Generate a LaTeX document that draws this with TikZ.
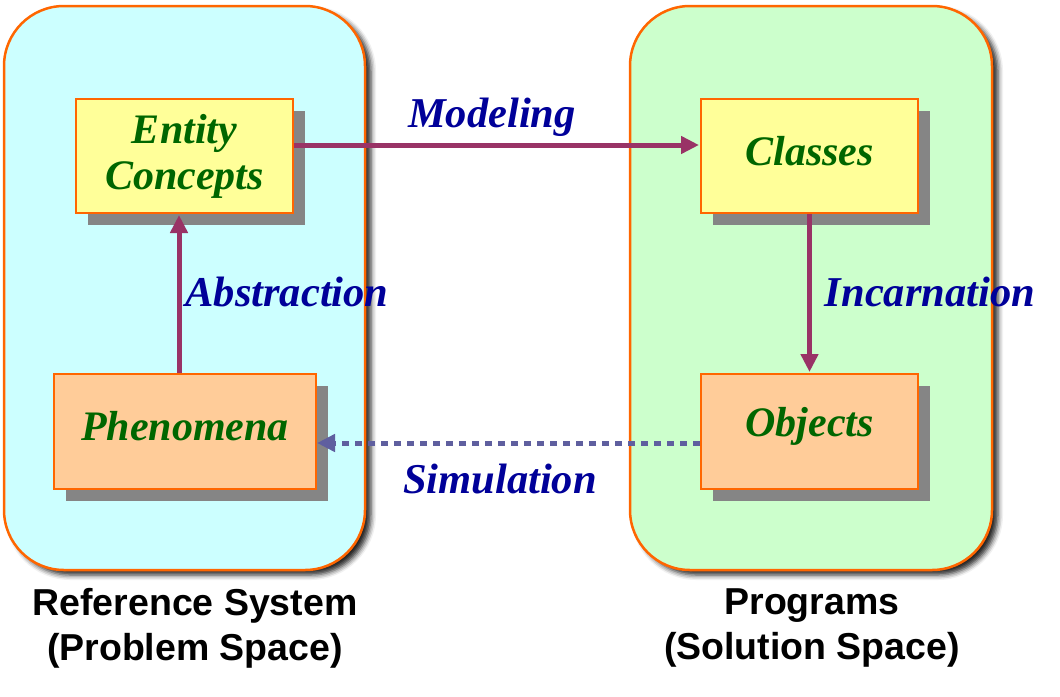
\documentclass[tikz,border=0pt]{standalone}
\usepackage{fontspec}
\setmainfont{Liberation Serif}
\newfontfamily\labsans{Liberation Sans}
\usetikzlibrary{shadows,shadows.blur,arrows.meta}
\definecolor{panelA}{HTML}{CCFFFF}
\definecolor{panelB}{HTML}{CCFFCC}
\definecolor{orng}{HTML}{FF6600}
\definecolor{boxY}{HTML}{FFFF99}
\definecolor{boxO}{HTML}{FFCC99}
\definecolor{txtG}{HTML}{006600}
\definecolor{txtB}{HTML}{000099}
\definecolor{arrP}{HTML}{993366}
\definecolor{arrD}{HTML}{5F5F9F}
\definecolor{shd}{HTML}{858585}
\newcommand{\upbit}[1]{\raisebox{5pt}[\height][\depth]{#1}}
\tikzset{
  panel/.style={draw=orng, line width=2.5pt, rounded corners=60pt,
    minimum width=361pt, minimum height=564pt, inner sep=0pt,
    blur shadow={shadow xshift=6pt, shadow yshift=-5pt, shadow blur radius=5pt, shadow opacity=85}},
  conbox/.style={draw=orng, line width=2pt, inner sep=0pt, align=center,
    font=\fontsize{42}{46}\selectfont\bfseries\itshape, text=txtG,
    drop shadow={shadow xshift=12pt, shadow yshift=-12pt, fill=shd, opacity=1}},
  solidarrow/.style={draw=arrP, line width=5pt, -{Triangle[length=18pt,width=17pt]}, shorten >=1pt},
  dotarrow/.style={draw=arrD, line width=5pt, dash pattern=on 7pt off 6pt, -{Triangle[length=18pt,width=17pt]}},
  arrlabel/.style={font=\fontsize{42.5}{46}\selectfont\bfseries\itshape, text=txtB, inner sep=0pt},
  caption/.style={font=\labsans\fontsize{37.5}{45}\selectfont\bfseries, align=center, inner sep=0pt}
}
\begin{document}
\begin{tikzpicture}[x=1pt,y=-1pt]
\useasboundingbox (0,0) rectangle (1060,696);
\node[panel, fill=panelA] (left) at (184.5,288) {};
\node[panel, fill=panelB, minimum width=362pt] (right) at (811,288) {};
\node[conbox, fill=boxY, minimum width=217pt, minimum height=114pt] (entity) at (184.5,156) {Entity\\Concepts};
\node[conbox, fill=boxY, minimum width=217pt, minimum height=114pt] (classes) at (809.5,156) {\upbit{Classes}};
\node[conbox, fill=boxO, minimum width=262pt, minimum height=115pt] (phen) at (185,431.5) {\upbit{Phenomena}};
\node[conbox, fill=boxO, minimum width=217pt, minimum height=115pt] (objects) at (809.5,431.5) {\upbit{Objects}};
\draw[solidarrow] ([yshift=11pt]entity.east) -- ([yshift=11pt]classes.west);
\draw[solidarrow] ([xshift=-6pt]phen.north) -- ([xshift=-6pt]phen.north |- entity.south);
\draw[solidarrow] (classes.south) -- (objects.north);
\draw[dotarrow] ([yshift=-11.5pt]objects.west) -- ([yshift=-11.5pt]phen.east);
\node[arrlabel] (lmod) at (492,117) {Modeling};
\node[arrlabel] (labs) at (287,292) {Abstraction};
\node[arrlabel] (linc) at (930,292) {Incarnation};
\node[arrlabel] (lsim) at (500,479) {Simulation};
\node[caption] (capl) at (195,628) {Reference System\\(Problem Space)};
\node[caption] (capr) at (812,628) {Programs\\(Solution Space)};
\end{tikzpicture}
\end{document}
